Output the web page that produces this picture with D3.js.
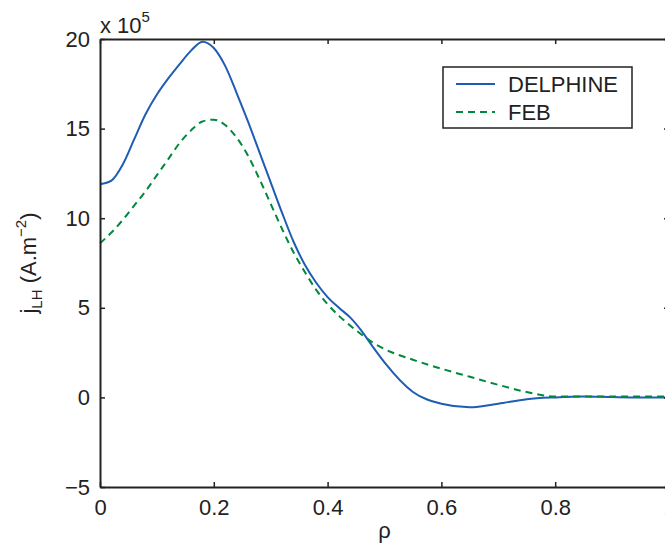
<!DOCTYPE html>
<html>
<head>
<meta charset="utf-8">
<script src="https://cdn.jsdelivr.net/npm/d3@7"></script>
<style>
  body { margin: 0; background: #fff; }
  text { font-family: "Liberation Sans", Arial, sans-serif; fill: #222; }
</style>
</head>
<body>
<div id="chart"></div>
<script>
// rho values (normalised radius)
const rho = [0, 0.02, 0.04, 0.06, 0.08, 0.1, 0.12, 0.14, 0.16, 0.18, 0.2, 0.22, 0.24, 0.26, 0.28, 0.3,
  0.32, 0.34, 0.36, 0.38, 0.4, 0.42, 0.44, 0.46, 0.48, 0.5, 0.55, 0.6, 0.65, 0.7, 0.75, 0.8, 0.85, 0.9, 0.95, 1.0];

// current density, units of 1e5 A.m^-2
const delphine = [11.9, 12.1, 13.0, 14.4, 15.8, 16.9, 17.8, 18.6, 19.35, 19.85, 19.5, 18.5, 17.0, 15.4, 13.7, 12.0,
  10.3, 8.7, 7.4, 6.4, 5.6, 5.0, 4.45, 3.7, 2.8, 1.95, 0.3, -0.35, -0.55, -0.35, -0.1, 0.0, 0.05, 0.02, 0.0, 0.0];
const feb = [8.6, 9.2, 9.9, 10.7, 11.5, 12.4, 13.3, 14.2, 14.9, 15.4, 15.5, 15.2, 14.5, 13.5, 12.2, 10.8,
  9.4, 8.1, 7.0, 6.0, 5.2, 4.55, 4.0, 3.5, 3.05, 2.7, 2.1, 1.6, 1.15, 0.7, 0.3, 0.05, 0.05, 0.05, 0.05, 0.05];

const xTicks = [0, 0.2, 0.4, 0.6, 0.8, 1];
const yTicks = [-5, 0, 5, 10, 15, 20];

const series = [
  { name: 'DELPHINE', values: delphine, color: '#1f5db3', dash: null },
  { name: 'FEB', values: feb, color: '#00893d', dash: '7,5' }
];

const W = 665, H = 545;
const margin = { left: 100, top: 39, right: -4, bottom: 58 };
const width = W - margin.left - margin.right;
const height = H - margin.top - margin.bottom;

const svg = d3.select('#chart').append('svg')
  .attr('width', W)
  .attr('height', H);

const x = d3.scaleLinear().domain([0, 1]).range([0, width]);
const y = d3.scaleLinear().domain([-5, 20]).range([height, 0]);

const g = svg.append('g').attr('transform', `translate(${margin.left},${margin.top})`);

// Lines
const line = vals => d3.line()
  .x((d, i) => x(rho[i]))
  .y(d => y(d))
  .curve(d3.curveMonotoneX)(vals);

series.forEach(s => {
  g.append('path')
    .attr('d', line(s.values))
    .attr('fill', 'none')
    .attr('stroke', s.color)
    .attr('stroke-width', 2)
    .attr('stroke-dasharray', s.dash);
});

// Axes box with inward ticks
const axisColor = '#222';
const fmt = d => d < 0 ? '\u2212' + Math.abs(d) : String(d);

const axBottom = g.append('g').attr('transform', `translate(0,${height})`)
  .call(d3.axisBottom(x).tickValues(xTicks).tickSizeInner(-5).tickSizeOuter(0).tickPadding(12).tickFormat(fmt));
const axTop = g.append('g')
  .call(d3.axisTop(x).tickValues(xTicks).tickSizeInner(-5).tickSizeOuter(0).tickFormat(''));
const axLeft = g.append('g')
  .call(d3.axisLeft(y).tickValues(yTicks).tickSizeInner(-5).tickSizeOuter(0).tickPadding(10).tickFormat(fmt));
const axRight = g.append('g').attr('transform', `translate(${width},0)`)
  .call(d3.axisRight(y).tickValues(yTicks).tickSizeInner(-5).tickSizeOuter(0).tickFormat(''));

[axBottom, axTop, axLeft, axRight].forEach(a => {
  a.select('.domain').attr('stroke', axisColor).attr('stroke-width', 2);
  a.selectAll('.tick line').attr('stroke', axisColor).attr('stroke-width', 1.5);
  a.selectAll('.tick text').style('font-size', '22px').attr('fill', '#222');
});

// Exponent label
const expo = svg.append('text')
  .attr('x', 100)
  .attr('y', 33)
  .style('font-size', '22px');
expo.append('tspan').text('x 10');
expo.append('tspan').attr('dy', -11).style('font-size', '15px').text('5');

// Axis labels
svg.append('text')
  .attr('x', margin.left + x(0.5))
  .attr('y', 538)
  .attr('text-anchor', 'middle')
  .style('font-size', '22px')
  .text('ρ');

const ylab = svg.append('text')
  .attr('transform', `translate(36,${margin.top + y(7.5)}) rotate(-90)`)
  .attr('text-anchor', 'middle')
  .style('font-size', '22px');
ylab.append('tspan').text('j');
ylab.append('tspan').attr('dy', 6).style('font-size', '15px').text('LH');
ylab.append('tspan').attr('dy', -6).text(' (A.m');
ylab.append('tspan').attr('dy', -10).style('font-size', '15px').text('\u22122');
ylab.append('tspan').attr('dy', 10).text(')');

// Legend
const legend = svg.append('g').attr('transform', 'translate(443,67)');
legend.append('rect')
  .attr('width', 189).attr('height', 61)
  .attr('fill', '#fff').attr('stroke', axisColor).attr('stroke-width', 1.5);
series.forEach((s, i) => {
  const yy = 17 + i * 28;
  legend.append('line')
    .attr('x1', 13).attr('x2', 52).attr('y1', yy).attr('y2', yy)
    .attr('stroke', s.color).attr('stroke-width', 2)
    .attr('stroke-dasharray', s.dash);
  legend.append('text')
    .attr('x', 65).attr('y', yy + 8)
    .style('font-size', '22px')
    .text(s.name);
});
</script>
</body>
</html>
